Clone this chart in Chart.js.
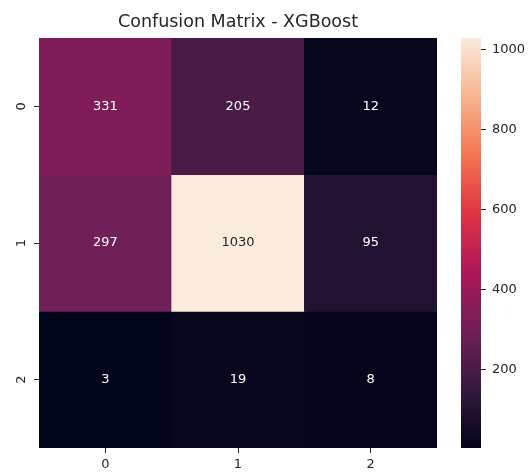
<!DOCTYPE html>
<html>
<head>
<meta charset="utf-8">
<script src="https://cdn.jsdelivr.net/npm/chart.js@4.4.0/dist/chart.umd.min.js"></script>
<style>
body { margin: 0; background: #fff; }
#wrap { position: relative; width: 529px; height: 475px; }
#heat { position: absolute; left: 0; top: 0; }
#cbar { position: absolute; left: 440px; top: 0; }
</style>
</head>
<body>
<div id="wrap">
<canvas id="heat" width="450" height="475"></canvas>
<canvas id="cbar" width="89" height="475"></canvas>
</div>
<script>
// confusion matrix values, one array per true-label row
const predLabels = ["0", "1", "2"];
const trueLabels = ["0", "1", "2"];
const row0 = [331, 205, 12];
const row1 = [297, 1030, 95];
const row2 = [3, 19, 8];
const colorbarTicks = [200, 400, 600, 800, 1000];

const rows = [row0, row1, row2];
const allVals = rows.flat();
const vmin = Math.min(...allVals);
const vmax = Math.max(...allVals);

// seaborn "rocket" colormap, rough stops
const ROCKET = [
	[0.0, [3, 5, 26]],
	[1 / 7, [53, 25, 62]],
	[2 / 7, [112, 31, 87]],
	[3 / 7, [173, 23, 89]],
	[4 / 7, [225, 51, 66]],
	[5 / 7, [243, 118, 81]],
	[6 / 7, [246, 180, 143]],
	[1.0, [250, 235, 221]]
];

function rocketRGB(t) {
	t = Math.max(0, Math.min(1, t));
	for (let i = 1; i < ROCKET.length; i++) {
		if (t <= ROCKET[i][0]) {
			const [t0, c0] = ROCKET[i - 1];
			const [t1, c1] = ROCKET[i];
			const f = (t - t0) / (t1 - t0);
			return c0.map((v, k) => Math.round(v + f * (c1[k] - v)));
		}
	}
	return ROCKET[ROCKET.length - 1][1];
}
function cmap(v) {
	const c = rocketRGB((v - vmin) / (vmax - vmin));
	return "rgb(" + c.join(",") + ")";
}
function textColor(v) {
	const c = rocketRGB((v - vmin) / (vmax - vmin)).map(x => {
		x = x / 255;
		return x <= 0.03928 ? x / 12.92 : Math.pow((x + 0.055) / 1.055, 2.4);
	});
	const lum = 0.2126 * c[0] + 0.7152 * c[1] + 0.0722 * c[2];
	return lum > 0.408 ? "#262626" : "#ffffff";
}

const FONT = "'DejaVu Sans', sans-serif";
const TICK_COLOR = "#262626";

const cellText = {
	id: "cellText",
	afterDatasetsDraw(chart) {
		const { ctx, scales: { x, y } } = chart;
		ctx.save();
		ctx.font = "13px " + FONT;
		ctx.textAlign = "center";
		ctx.textBaseline = "middle";
		rows.forEach((vals, r) => {
			vals.forEach((v, c) => {
				ctx.fillStyle = textColor(v);
				ctx.fillText(String(v), x.getPixelForValue(c), y.getPixelForValue(r + 0.5));
			});
		});
		ctx.restore();
	}
};

const HEAT = document.getElementById("heat");
let heatChart = new Chart(HEAT, {
	type: "bar",
	data: {
		labels: predLabels,
		datasets: rows.map((vals, r) => ({
			label: trueLabels[r],
			data: vals.map(() => [r, r + 1]),
			backgroundColor: vals.map(cmap),
			borderWidth: 0,
			grouped: false,
			barPercentage: 1,
			categoryPercentage: 1
		}))
	},
	options: {
		responsive: false,
		animation: false,
		events: [],
		layout: { padding: { left: 0, right: 13, top: 0, bottom: 0 } },
		plugins: {
			legend: { display: false },
			tooltip: { enabled: false },
			title: {
				display: true,
				text: "Confusion Matrix - XGBoost",
				fullSize: false,
				color: TICK_COLOR,
				font: { family: FONT, size: 17.5, weight: "normal", lineHeight: 1.2 },
				padding: { top: 12, bottom: 5 }
			}
		},
		scales: {
			x: {
				grid: { display: true, offset: false, drawOnChartArea: false, tickLength: 5, color: TICK_COLOR },
				border: { display: false },
				ticks: { color: TICK_COLOR, font: { family: FONT, size: 13 }, padding: 4 },
				afterFit: (scale) => { scale.height = 27; }
			},
			y: {
				reverse: true,
				min: 0,
				max: 3,
				afterBuildTicks: (axis) => {
					axis.ticks = trueLabels.map((l, i) => ({ value: i + 0.5 }));
				},
				grid: { display: true, drawOnChartArea: false, tickLength: 5, color: TICK_COLOR },
				border: { display: false },
				ticks: {
					color: TICK_COLOR,
					font: { family: FONT, size: 13 },
					minRotation: 90,
					maxRotation: 90,
					crossAlign: "center",
					padding: 8,
					callback: (v) => trueLabels[Math.floor(v)]
				},
				afterFit: (scale) => { scale.width = 39; }
			}
		}
	},
	plugins: [cellText]
});

const CBAR = document.getElementById("cbar");
let cbarChart = new Chart(CBAR, {
	type: "bar",
	data: {
		labels: ["scale"],
		datasets: [{
			data: [[vmin, vmax]],
			borderWidth: 0,
			barPercentage: 1,
			categoryPercentage: 1,
			backgroundColor: (context) => {
				const { ctx, chartArea } = context.chart;
				if (!chartArea) return null;
				const g = ctx.createLinearGradient(0, chartArea.bottom, 0, chartArea.top);
				ROCKET.forEach(([t, c]) => g.addColorStop(t, "rgb(" + c.join(",") + ")"));
				return g;
			}
		}]
	},
	options: {
		responsive: false,
		animation: false,
		events: [],
		layout: { padding: { left: 21, right: 0, top: 38, bottom: 27 } },
		plugins: { legend: { display: false }, tooltip: { enabled: false } },
		scales: {
			x: { display: false },
			y: {
				position: "right",
				min: vmin,
				max: vmax,
				afterBuildTicks: (axis) => {
					axis.ticks = colorbarTicks.map(v => ({ value: v }));
				},
				grid: { display: true, drawOnChartArea: false, tickLength: 5, color: TICK_COLOR },
				border: { display: false },
				ticks: {
					color: TICK_COLOR,
					font: { family: FONT, size: 13 },
					padding: 6,
					callback: (v) => String(v)
				},
				afterFit: (scale) => { scale.width = 48; }
			}
		}
	}
});
</script>
</body>
</html>
